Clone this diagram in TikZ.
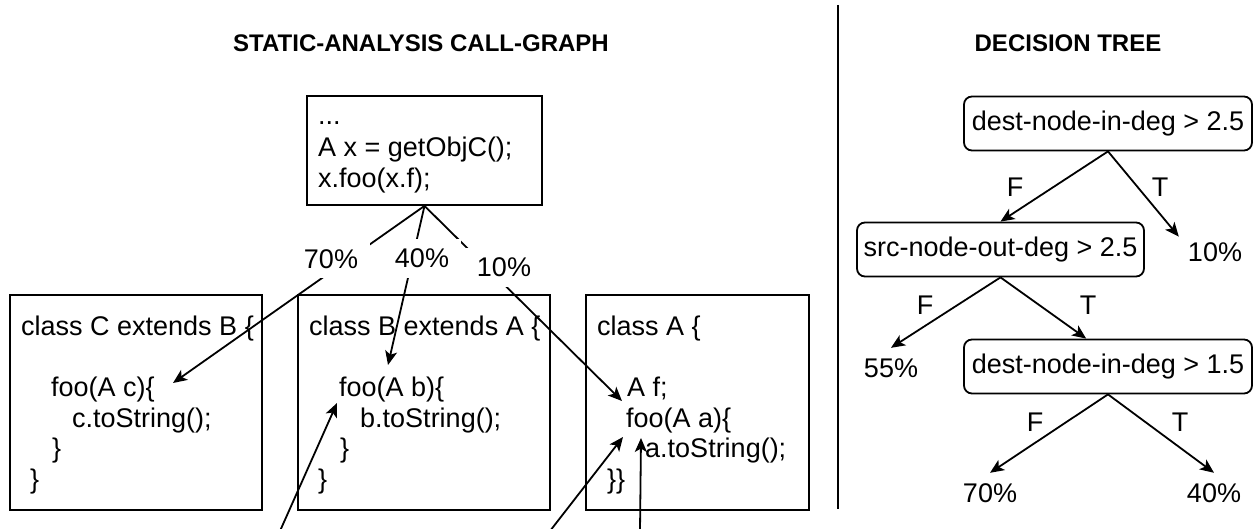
\documentclass[tikz,border=0pt]{standalone}
\usepackage{fontspec}
\setmainfont{Liberation Sans}
\usetikzlibrary{arrows.meta}
\begin{document}
\begin{tikzpicture}[x=1pt,y=-1pt,
  every node/.style={font=\fontsize{27}{32}\selectfont},
  code/.style={anchor=base west, inner sep=0pt},
  title/.style={anchor=base, inner sep=0pt, font=\fontsize{24}{28}\selectfont\bfseries},
  codebox/.style={draw, line width=1.8pt, inner sep=0pt, minimum height=215},
  testbox/.style={draw, rounded corners=8pt, line width=1.8pt, inner sep=0pt, minimum width=288, minimum height=54},
  leaf/.style={inner sep=0pt, minimum width=72, minimum height=40},
  pct/.style={fill=white, inner sep=0pt, minimum width=78, minimum height=39},
  branch/.style={inner sep=0pt},
  arr/.style={line width=1.8pt, -{Stealth[length=14pt,width=12pt,inset=3.5pt]}}
]
\useasboundingbox (0,0) rectangle (1253,529);

% headings
\node[title] (h1) at (421,52) {STATIC-ANALYSIS CALL-GRAPH};
\node[title] (h2) at (1068,52) {DECISION TREE};

% separator between the two panels
\draw[line width=1.8pt] (838,5) -- (838,509);

% ---------------- call graph ----------------
\node[draw, line width=1.8pt, inner sep=0pt, minimum width=235, minimum height=109] (call) at (424.5,150.5) {};
\node[code] (call1) at (318,125) {...};
\node[code] (call2) at (318,157) {A x = getObjC();};
\node[code] (call3) at (318,188) {x.foo(x.f);};

\node[codebox, minimum width=252] (boxC) at (136,402.5) {};
\node[codebox, minimum width=252] (boxB) at (424,402.5) {};
\node[codebox, minimum width=223] (boxA) at (697.5,402.5) {};

\node[code] (c1) at (21,335) {class C extends B \{};
\node[code] (c2) at (51,396.5) {foo(A c)\{};
\node[code] (c3) at (72,427) {c.toString();};
\node[code] (c4) at (52,457.5) {\}};
\node[code] (c5) at (30,488) {\}};

\node[code] (b1) at (309,335) {class B extends A \{};
\node[code] (b2) at (339,396.5) {foo(A b)\{};
\node[code] (b3) at (360,427) {b.toString();};
\node[code] (b4) at (340,457.5) {\}};
\node[code] (b5) at (318,488) {\}};

\node[code] (a1) at (597,335) {class A \{};
\node[code] (a2) at (627,396.5) {A f;};
\node[code] (a3) at (626,427) {foo(A a)\{};
\node[code] (a4) at (645,457.5) {a.toString();};
\node[code] (a5) at (607,488) {\}\}};

% arrow tips and loose tails
\coordinate (tipC) at (173,383);
\coordinate (tipB) at (388,365);
\coordinate (tipAf) at (622,401);
\coordinate (tipBin) at (337,403);
\coordinate (tipAin) at (623,437);
\coordinate (tipAup) at (641,438);
\coordinate (tailB) at (280,531);
\coordinate (tailA) at (550,531);
\coordinate (tailAup) at (640,531);

\draw[arr] (call.south) -- (tipC);
\draw[arr] (call.south) -- (tipB);
\draw[arr] (call.south) -- (tipAf);
\node[pct] (p70) at (331,259) {70\%};
\node[pct] (p40) at (422,258.5) {40\%};
\node[pct] (p10) at (504,267.5) {10\%};

\draw[arr] (tailB) -- (tipBin);
\draw[arr] (tailA) -- (tipAin);
\draw[arr] (tailAup) -- (tipAup);

% ---------------- decision tree ----------------
\node[testbox] (root) at (1108,123.5) {dest-node-in-deg > 2.5};
\node[testbox, minimum width=287] (src) at (1000.5,249.5) {src-node-out-deg > 2.5};
\node[testbox] (dest) at (1108,366.5) {dest-node-in-deg > 1.5};

\node[leaf] (l10) at (1215,252) {10\%};
\node[leaf] (l55) at (891,368) {55\%};
\node[leaf] (l70) at (990,493) {70\%};
\node[leaf] (l40) at (1214,493) {40\%};

\draw[arr] (root.south) -- (src.north);
\draw[arr] (root.south) -- (l10.157);
\draw[arr] (src.south) -- (l55.north);
\draw[arr] (src.south) -- (dest.128);
\draw[arr] (dest.south) -- (l70.north);
\draw[arr] (dest.south) -- (l40.north);

\node[branch] (f1) at (1015,187) {F};
\node[branch] (t1) at (1160,187) {T};
\node[branch] (f2) at (925,305) {F};
\node[branch] (t2) at (1088,305) {T};
\node[branch] (f3) at (1035,422) {F};
\node[branch] (t3) at (1180,422) {T};
\end{tikzpicture}
\end{document}
